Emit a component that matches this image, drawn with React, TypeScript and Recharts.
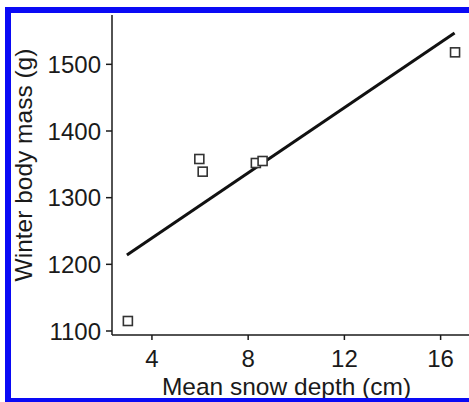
import { ScatterChart, Scatter, XAxis, YAxis, Label } from "recharts";

const snowDepth = [3.0, 5.97, 6.11, 8.32, 8.6, 16.6];
const bodyMass = [1115, 1358, 1339, 1352, 1355, 1518];

const fitDepth = [2.96, 16.58];
const fitMass = [1214, 1547];

const xTicks = [4, 8, 12, 16];
const yTicks = [1100, 1200, 1300, 1400, 1500];

const points = snowDepth.map((x, i) => ({ x, y: bodyMass[i] }));
const fitLine = fitDepth.map((x, i) => ({ x, y: fitMass[i] }));

const font = "'Liberation Sans', Arial, sans-serif";
const ink = "#1a1a1a";

function SquareMark(props: any) {
  const { cx, cy } = props;
  if (cx == null || cy == null) return <g />;
  return <rect x={cx - 4.5} y={cy - 4.5} width={9} height={9} fill="#fff" stroke="#333" strokeWidth={1.6} />;
}

function NoMark() {
  return <g />;
}

export default function App() {
  return (
    <div style={{ position: "absolute", left: 0, top: 0, width: 469, height: 402, background: "#fff", overflow: "hidden" }}>
      <ScatterChart width={469} height={402} margin={{ top: 15, right: 0, bottom: 0, left: 0 }}>
        <XAxis
          type="number"
          dataKey="x"
          domain={[2.34, 17.18]}
          ticks={xTicks}
          allowDataOverflow
          height={67}
          tickSize={5}
          tickMargin={10}
          stroke={ink}
          strokeWidth={1.5}
          tick={{ fill: ink, fontSize: 24, fontFamily: font }}
        >
          <Label
            content={(p: any) => (
              <text x={p.viewBox.x + p.viewBox.width / 2 - 4} y={395} textAnchor="middle" fontSize={24.5} fontFamily={font} fill={ink}>
                Mean snow depth (cm)
              </text>
            )}
          />
        </XAxis>
        <YAxis
          type="number"
          dataKey="y"
          domain={[1094, 1574]}
          ticks={yTicks}
          allowDataOverflow
          width={112}
          tickSize={6}
          tickMargin={5}
          stroke={ink}
          strokeWidth={1.5}
          tick={{ fill: ink, fontSize: 24, fontFamily: font }}
        >
          <Label
            content={(p: any) => {
              const cy = p.viewBox.y + p.viewBox.height / 2 - 10;
              return (
                <text x={23} y={cy} transform={`rotate(-90 23 ${cy})`} textAnchor="middle" dominantBaseline="central" fontSize={24.5} fontFamily={font} fill={ink}>
                  Winter body mass (g)
                </text>
              );
            }}
          />
        </YAxis>
        <Scatter data={fitLine} line={{ stroke: "#111", strokeWidth: 3 }} shape={NoMark} isAnimationActive={false} />
        <Scatter data={points} shape={SquareMark} isAnimationActive={false} />
      </ScatterChart>
      <div style={{ position: "absolute", left: 5, top: 7, width: 6, height: 395, background: "#0a0af5" }} />
      <div style={{ position: "absolute", left: 5, top: 7, width: 464, height: 6, background: "#0a0af5" }} />
      <div style={{ position: "absolute", left: 5, top: 398, width: 464, height: 4, background: "#0a0af5" }} />
    </div>
  );
}
